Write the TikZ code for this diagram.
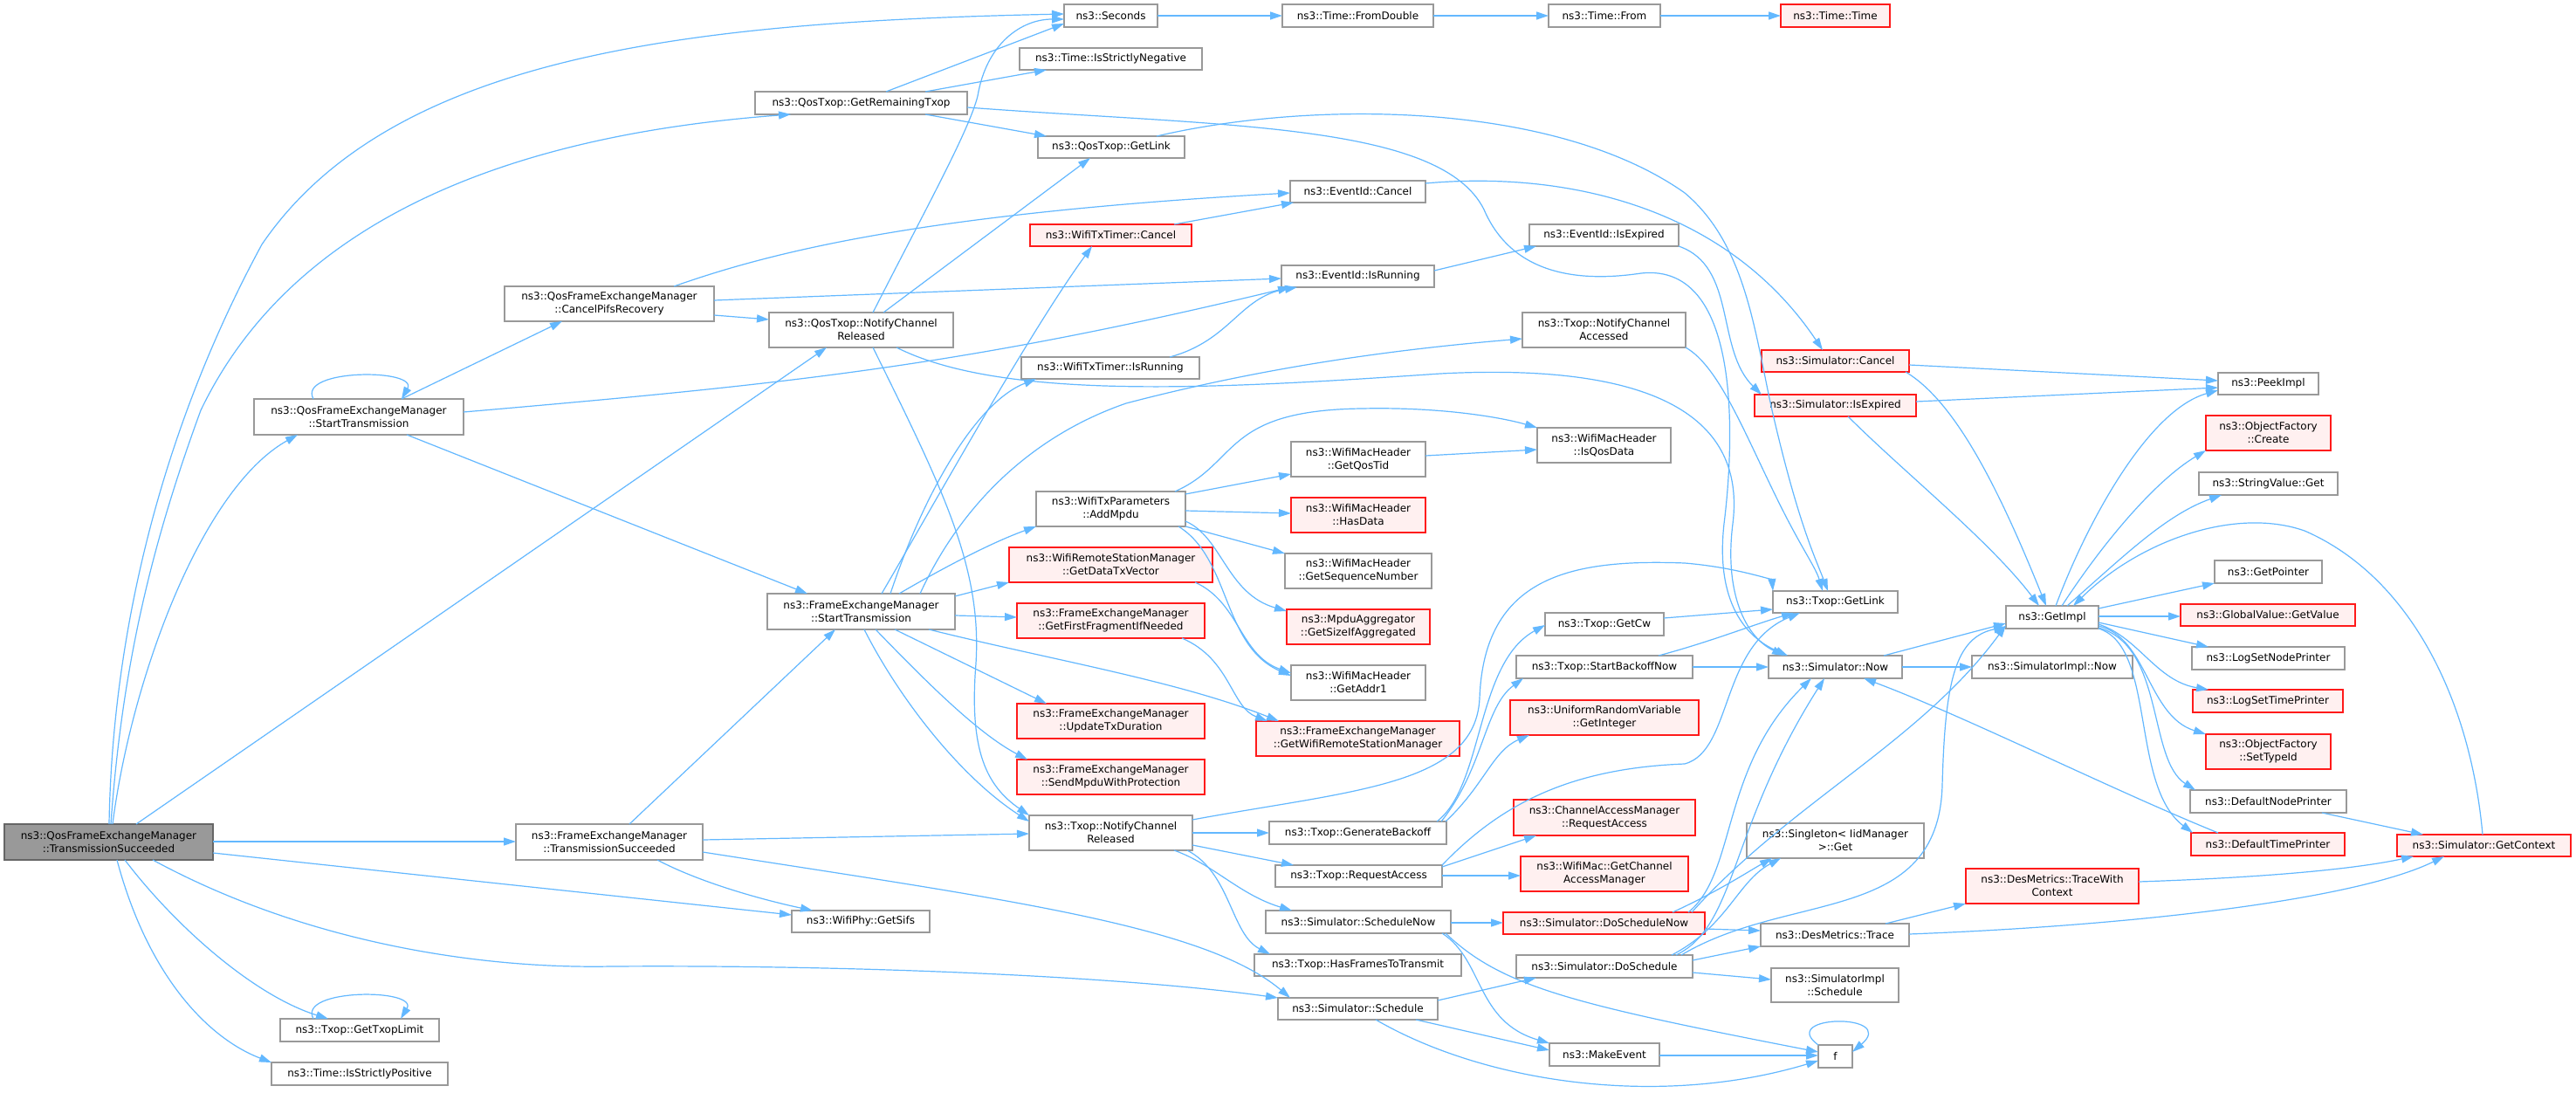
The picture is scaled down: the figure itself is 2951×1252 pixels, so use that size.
\documentclass[tikz,border=0pt]{standalone}
\usepackage{fontspec}
\setmainfont{DejaVu Sans}
\usetikzlibrary{arrows.meta}
\definecolor{ecol}{HTML}{63B8FF}
\definecolor{ncol}{HTML}{999999}
\definecolor{rootline}{HTML}{666666}
\definecolor{rootfill}{HTML}{999999}
\definecolor{redfill}{HTML}{FFF0F0}
\definecolor{rcol}{HTML}{FF1A1A}
\tikzset{
  nb/.style={draw=ncol, fill=white, line width=1.1pt, inner sep=0pt, outer sep=0pt,
    align=center, font=\fontsize{12}{15}\selectfont},
  rootbox/.style={draw=rootline, fill=rootfill},
  trunc/.style={draw=rcol, fill=redfill},
  e/.style={draw=ecol, line width=1.2pt, -{Triangle[length=14pt,width=9pt]}}
}
\newcommand{\mknode}[7][]{\node[nb,#1,minimum width={#4-#2}, minimum height={#5-#3}] (#6) at ({(#2+#4)/2},{(#3+#5)/2}) {#7};}
\begin{document}
\begin{tikzpicture}[x=1pt,y=-1pt]
\fill[white] (0,0) rectangle (2951,1252);
\useasboundingbox (0,0) rectangle (2951,1252);
% nodes
\mknode[rootbox]{5}{944}{244}{985}{R}{ns3::QosFrameExchangeManager\\::TransmissionSucceeded}
\mknode{291}{457}{531}{498}{QST}{ns3::QosFrameExchangeManager\\::StartTransmission}
\mknode{321}{1167}{503}{1193}{GTL}{ns3::Txop::GetTxopLimit}
\mknode{311}{1217}{513}{1243}{TISP}{ns3::Time::IsStrictlyPositive}
\mknode{578}{328}{818}{368}{CPR}{ns3::QosFrameExchangeManager\\::CancelPifsRecovery}
\mknode{591}{944}{805}{985}{FTS}{ns3::FrameExchangeManager\\::TransmissionSucceeded}
\mknode{865}{105}{1108}{131}{GRT}{ns3::QosTxop::GetRemainingTxop}
\mknode{881}{358}{1092}{398}{QNCR}{ns3::QosTxop::NotifyChannel\\Released}
\mknode{879}{680}{1094}{721}{FST}{ns3::FrameExchangeManager\\::StartTransmission}
\mknode{907}{1043}{1065}{1068}{SIFS}{ns3::WifiPhy::GetSifs}
\mknode{1219}{5}{1326}{31}{SEC}{ns3::Seconds}
\mknode{1168}{55}{1377}{80}{TISN}{ns3::Time::IsStrictlyNegative}
\mknode{1189}{156}{1357}{181}{QGL}{ns3::QosTxop::GetLink}
\mknode[trunc]{1180}{257}{1365}{282}{WTC}{ns3::WifiTxTimer::Cancel}
\mknode{1170}{409}{1374}{434}{WTR}{ns3::WifiTxTimer::IsRunning}
\mknode{1187}{563}{1358}{603}{AMP}{ns3::WifiTxParameters\\::AddMpdu}
\mknode[trunc]{1156}{627}{1389}{667}{GDTV}{ns3::WifiRemoteStationManager\\::GetDataTxVector}
\mknode[trunc]{1165}{691}{1380}{731}{GFF}{ns3::FrameExchangeManager\\::GetFirstFragmentIfNeeded}
\mknode[trunc]{1165}{806}{1380}{846}{UTD}{ns3::FrameExchangeManager\\::UpdateTxDuration}
\mknode[trunc]{1165}{870}{1380}{910}{SMP}{ns3::FrameExchangeManager\\::SendMpduWithProtection}
\mknode{1179}{934}{1366}{974}{TNCR}{ns3::Txop::NotifyChannel\\Released}
\mknode{1450}{1043}{1662}{1069}{SNOW}{ns3::Simulator::ScheduleNow}
\mknode{1437}{1093}{1674}{1118}{HFT}{ns3::Txop::HasFramesToTransmit}
\mknode{1464}{1143}{1647}{1168}{SCH}{ns3::Simulator::Schedule}
\mknode{1469}{5}{1642}{31}{TFD}{ns3::Time::FromDouble}
\mknode{1478}{207}{1633}{232}{ECAN}{ns3::EventId::Cancel}
\mknode{1468}{304}{1643}{329}{ERUN}{ns3::EventId::IsRunning}
\mknode{1479}{506}{1633}{546}{QTID}{ns3::WifiMacHeader\\::GetQosTid}
\mknode[trunc]{1479}{570}{1633}{610}{HDAT}{ns3::WifiMacHeader\\::HasData}
\mknode{1472}{634}{1640}{674}{GSN}{ns3::WifiMacHeader\\::GetSequenceNumber}
\mknode[trunc]{1474}{698}{1638}{738}{GSIA}{ns3::MpduAggregator\\::GetSizeIfAggregated}
\mknode{1479}{762}{1633}{802}{ADDR}{ns3::WifiMacHeader\\::GetAddr1}
\mknode[trunc]{1439}{826}{1672}{866}{GWRSM}{ns3::FrameExchangeManager\\::GetWifiRemoteStationManager}
\mknode{1454}{941}{1657}{967}{GBO}{ns3::Txop::GenerateBackoff}
\mknode{1461}{991}{1652}{1016}{RA}{ns3::Txop::RequestAccess}
\mknode{1774}{5}{1902}{31}{TFROM}{ns3::Time::From}
\mknode[trunc]{2040}{5}{2165}{31}{TTIME}{ns3::Time::Time}
\mknode{1752}{257}{1923}{282}{EEXP}{ns3::EventId::IsExpired}
\mknode{1744}{358}{1931}{398}{NCA}{ns3::Txop::NotifyChannel\\Accessed}
\mknode[trunc]{2018}{401}{2187}{426}{SCAN}{ns3::Simulator::Cancel}
\mknode[trunc]{2010}{452}{2195}{477}{SEXP}{ns3::Simulator::IsExpired}
\mknode{1761}{490}{1914}{530}{QOSD}{ns3::WifiMacHeader\\::IsQosData}
\mknode{2031}{677}{2174}{702}{TGL}{ns3::Txop::GetLink}
\mknode{1770}{702}{1906}{728}{GCW}{ns3::Txop::GetCw}
\mknode{1737}{751}{1939}{777}{SBN}{ns3::Txop::StartBackoffNow}
\mknode{2026}{751}{2179}{777}{NOW}{ns3::Simulator::Now}
\mknode[trunc]{1730}{802}{1946}{842}{URV}{ns3::UniformRandomVariable\\::GetInteger}
\mknode[trunc]{1734}{916}{1942}{957}{CAM}{ns3::ChannelAccessManager\\::RequestAccess}
\mknode[trunc]{1742}{981}{1934}{1021}{GCAM}{ns3::WifiMac::GetChannel\\AccessManager}
\mknode{2001}{943}{2204}{983}{SING}{ns3::Singleton< IidManager\\>::Get}
\mknode[trunc]{1722}{1045}{1953}{1070}{DSN}{ns3::Simulator::DoScheduleNow}
\mknode{2017}{1058}{2187}{1084}{DMT}{ns3::DesMetrics::Trace}
\mknode{1737}{1094}{1939}{1120}{DS}{ns3::Simulator::DoSchedule}
\mknode{2029}{1109}{2175}{1148}{SIS}{ns3::SimulatorImpl\\::Schedule}
\mknode{1775}{1195}{1901}{1221}{ME}{ns3::MakeEvent}
\mknode{2083}{1197}{2122}{1223}{F}{f}
\mknode{2298}{694}{2404}{720}{GI}{ns3::GetImpl}
\mknode{2259}{751}{2443}{777}{SIN}{ns3::SimulatorImpl::Now}
\mknode[trunc]{2252}{995}{2450}{1035}{DTWC}{ns3::DesMetrics::TraceWith\\Context}
\mknode{2541}{427}{2656}{452}{PEEK}{ns3::PeekImpl}
\mknode[trunc]{2527}{476}{2670}{516}{OFC}{ns3::ObjectFactory\\::Create}
\mknode{2519}{541}{2678}{567}{SVG}{ns3::StringValue::Get}
\mknode{2537}{642}{2660}{668}{GPTR}{ns3::GetPointer}
\mknode[trunc]{2498}{692}{2698}{717}{GVGV}{ns3::GlobalValue::GetValue}
\mknode{2511}{741}{2686}{767}{LSNP}{ns3::LogSetNodePrinter}
\mknode[trunc]{2512}{790}{2684}{816}{LSTP}{ns3::LogSetTimePrinter}
\mknode[trunc]{2527}{841}{2670}{881}{OFST}{ns3::ObjectFactory\\::SetTypeId}
\mknode{2509}{905}{2688}{931}{DNP}{ns3::DefaultNodePrinter}
\mknode[trunc]{2510}{954}{2686}{980}{DTP}{ns3::DefaultTimePrinter}
\mknode[trunc]{2746}{956}{2945}{981}{GCTX}{ns3::Simulator::GetContext}
% edges from root
\draw[e] (R.north -| 125,0) .. controls (128,760) and (170,520) .. (300,280) .. controls (450,60) and (800,25) .. (SEC.west |- 0,16);
\draw[e] (R.north -| 127,0) .. controls (140,760) and (175,620) .. (230,470) .. controls (350,220) and (650,150) .. (GRT.south -| 906,0);
\draw[e] (R.north -| 129,0) .. controls (150,780) and (230,560) .. (QST.south -| 341,0);
\draw[e] (R.north -| 156,0) -- (QNCR.south -| 947,0);
\draw[e] (R.east |- 0,964) -- (FTS.west |- 0,964);
\draw[e] (R.east |- 0,977) -- (SIFS.west |- 0,1048);
\draw[e] (R.south -| 175,0) .. controls (350,1080) and (550,1110) .. (700,1107) .. controls (1000,1105) and (1300,1120) .. (SCH.north west);
\draw[e] (R.south -| 143,0) .. controls (200,1060) and (290,1140) .. (GTL.north -| 376,0);
\draw[e] (R.south -| 134,0) .. controls (170,1120) and (240,1190) .. (TISP.north west);
% self loops
\draw[e] (GTL.north -| 359,0) .. controls (340,1132) and (480,1132) .. (GTL.north -| 459,0);
\draw[e] (QST.north -| 359,0) .. controls (340,422) and (480,422) .. (QST.north -| 460,0);
% QST
\draw[e] (QST.north -| 460,0) -- (CPR.south -| 644,0);
\draw[e] (QST.south -| 466,0) -- (FST.north -| 925,0);
\draw[e] (QST.east |- 0,472) .. controls (900,440) and (1100,420) .. (ERUN.south -| 1478,0);
% CPR
\draw[e] (CPR.north -| 772,0) .. controls (880,290) and (1050,245) .. (ECAN.west |- 0,221);
\draw[e] (CPR.east |- 0,344) -- (ERUN.west |- 0,319);
\draw[e] (CPR.east |- 0,361) -- (QNCR.west |- 0,366);
% GRT
\draw[e] (GRT.north -| 1015,0) -- (SEC.west |- 0,27);
\draw[e] (GRT.north -| 1060,0) -- (TISN.south -| 1199,0);
\draw[e] (GRT.south -| 1060,0) -- (QGL.north -| 1199,0);
\draw[e] (GRT.east |- 0,123) .. controls (1400,145) and (1650,140) .. (1700,240) .. controls (1730,310) and (1800,325) .. (1880,313) .. controls (2000,300) and (1985,520) .. (1975,600) .. controls (1965,690) and (2000,730) .. (NOW.north -| 2048,0);
% QNCR
\draw[e] (QNCR.north -| 1000,0) .. controls (1060,240) and (1110,150) .. (1120,110) .. controls (1130,50) and (1170,22) .. (SEC.west |- 0,22);
\draw[e] (QNCR.north -| 1012,0) -- (QGL.south -| 1249,0);
\draw[e] (QNCR.south -| 1000,0) .. controls (1080,560) and (1125,650) .. (1118,760) .. controls (1110,860) and (1130,900) .. (TNCR.north west);
\draw[e] (QNCR.south -| 1027,0) .. controls (1150,460) and (1400,445) .. (1650,428) .. controls (1900,415) and (2000,480) .. (1985,600) .. controls (1975,680) and (2000,730) .. (NOW.north -| 2044,0);
% WifiTxTimer
\draw[e] (WTC.north -| 1345,0) -- (ECAN.south -| 1482,0);
\draw[e] (WTR.north -| 1340,0) .. controls (1410,390) and (1420,340) .. (ERUN.south -| 1486,0);
% FST
\draw[e] (FST.north -| 1010,0) .. controls (1080,560) and (1180,380) .. (WTC.south -| 1251,0);
\draw[e] (FST.north -| 1020,0) .. controls (1060,560) and (1120,460) .. (WTR.south -| 1187,0);
\draw[e] (FST.north -| 1054,0) .. controls (1100,580) and (1180,500) .. (1290,462) .. controls (1450,420) and (1600,400) .. (NCA.west |- 0,388);
\draw[e] (FST.north -| 1030,0) .. controls (1090,645) and (1140,620) .. (AMP.south west);
\draw[e] (FST.east |- 0,683) -- (GDTV.south west);
\draw[e] (FST.east |- 0,705) -- (GFF.west |- 0,707);
\draw[e] (FST.south -| 1064,0) .. controls (1200,755) and (1350,780) .. (GWRSM.north -| 1465,0);
\draw[e] (FST.south -| 1025,0) -- (UTD.north -| 1199,0);
\draw[e] (FST.south -| 1003,0) .. controls (1060,780) and (1120,840) .. (SMP.north -| 1177,0);
\draw[e] (FST.south -| 990,0) .. controls (1030,800) and (1100,890) .. (TNCR.west |- 0,941);
% FTS
\draw[e] (FTS.north -| 721,0) -- (FST.south -| 957,0);
\draw[e] (FTS.east |- 0,962) -- (TNCR.west |- 0,955);
\draw[e] (FTS.south -| 753,0) .. controls (800,1010) and (870,1030) .. (SIFS.north -| 931,0);
\draw[e] (FTS.east |- 0,976) .. controls (1150,1030) and (1380,1060) .. (SCH.north -| 1478,0);
% TNCR
\draw[e] (TNCR.east |- 0,939) .. controls (1550,905) and (1690,900) .. (1695,800) .. controls (1700,660) and (1800,640) .. (1930,645) .. controls (1990,650) and (2030,665) .. (TGL.north west);
\draw[e] (TNCR.east |- 0,954) -- (GBO.west |- 0,954);
\draw[e] (TNCR.east |- 0,968) -- (RA.north -| 1482,0);
\draw[e] (TNCR.south -| 1345,0) .. controls (1390,990) and (1420,1025) .. (SNOW.north -| 1480,0);
\draw[e] (TNCR.south -| 1360,0) .. controls (1410,1000) and (1410,1070) .. (HFT.north -| 1455,0);
% GBO
\draw[e] (GBO.north -| 1646,0) .. controls (1700,900) and (1690,760) .. (GCW.west |- 0,716);
\draw[e] (GBO.north -| 1651,0) .. controls (1700,880) and (1700,810) .. (SBN.south -| 1745,0);
\draw[e] (GBO.north -| 1656,0) .. controls (1700,900) and (1710,860) .. (URV.south -| 1752,0);
% into Txop::GetLink and Now
\draw[e] (SBN.north -| 1900,0) .. controls (1960,735) and (2010,715) .. (TGL.south -| 2055,0);
\draw[e] (SBN.east |- 0,764) -- (NOW.west |- 0,764);
\draw[e] (GCW.east |- 0,708) -- (TGL.west |- 0,698);
\draw[e] (RA.north east) .. controls (1720,920) and (1800,880) .. (1930,875) .. controls (1985,860) and (1970,740) .. (TGL.south -| 2062,0);
\draw[e] (RA.east |- 0,993) -- (CAM.south -| 1760,0);
\draw[e] (RA.east |- 0,1003) -- (GCAM.west |- 0,1003);
\draw[e] (NCA.south east) .. controls (1970,420) and (2000,500) .. (2040,580) .. controls (2065,630) and (2080,650) .. (TGL.north -| 2088,0);
\draw[e] (QGL.north -| 1325,0) .. controls (1500,115) and (1780,115) .. (1930,221) .. controls (2000,280) and (2010,380) .. (2030,470) .. controls (2060,600) and (2080,640) .. (TGL.north -| 2094,0);
% ScheduleNow / Schedule
\draw[e] (SNOW.east |- 0,1057) -- (DSN.west |- 0,1057);
\draw[e] (SNOW.south -| 1652,0) .. controls (1700,1100) and (1690,1170) .. (ME.north west);
\draw[e] (SNOW.south -| 1656,0) .. controls (1720,1130) and (1800,1150) .. (F.west |- 0,1205);
\draw[e] (SCH.east |- 0,1146) -- (DS.south -| 1760,0);
\draw[e] (SCH.south -| 1622,0) -- (ME.west |- 0,1203);
\draw[e] (SCH.south -| 1576,0) .. controls (1700,1240) and (1900,1270) .. (F.west |- 0,1215);
\draw[e] (ME.east |- 0,1209) -- (F.west |- 0,1209);
\draw[e] (F.north west) .. controls (2035,1162) and (2175,1160) .. (F.east |- 0,1205);
% DoScheduleNow
\draw[e] (DSN.north -| 1916,0) .. controls (1970,1020) and (2000,1000) .. (SING.south -| 2030,0);
\draw[e] (DSN.north -| 1934,0) .. controls (1990,1000) and (1970,880) .. (NOW.south -| 2075,0);
\draw[e] (DSN.north -| 1938,0) .. controls (2050,920) and (2200,850) .. (GI.west |- 0,716);
\draw[e] (DSN.east |- 0,1064) -- (DMT.west |- 0,1066);
% DoSchedule
\draw[e] (DS.north -| 1920,0) .. controls (1990,1060) and (1980,950) .. (NOW.south -| 2090,0);
\draw[e] (DS.north -| 1915,0) .. controls (1980,1060) and (1990,1010) .. (SING.south -| 2040,0);
\draw[e] (DS.north -| 1926,0) .. controls (2050,1020) and (2220,1060) .. (2225,900) .. controls (2228,780) and (2240,730) .. (GI.west |- 0,718);
\draw[e] (DS.east |- 0,1100) -- (DMT.south west);
\draw[e] (DS.east |- 0,1114) -- (SIS.west |- 0,1122);
% DesMetrics
\draw[e] (DMT.north -| 2160,0) -- (DTWC.south west);
\draw[e] (DMT.east |- 0,1070) .. controls (2450,1060) and (2700,1030) .. (GCTX.south -| 2800,0);
\draw[e] (DTWC.east |- 0,1010) .. controls (2600,1005) and (2700,995) .. (GCTX.south -| 2765,0);
% Now
\draw[e] (NOW.east |- 0,764) -- (SIN.west |- 0,764);
\draw[e] (NOW.north -| 2158,0) -- (GI.west |- 0,714);
% GetImpl out
\draw[e] (GI.north -| 2355,0) .. controls (2390,600) and (2460,470) .. (PEEK.west |- 0,447);
\draw[e] (GI.north -| 2362,0) .. controls (2410,620) and (2470,550) .. (OFC.south west);
\draw[e] (GI.north -| 2368,0) .. controls (2430,640) and (2480,590) .. (SVG.south -| 2545,0);
\draw[e] (GI.east |- 0,697) -- (GPTR.south west);
\draw[e] (GI.east |- 0,706) -- (GVGV.west |- 0,706);
\draw[e] (GI.east |- 0,713) -- (LSNP.north -| 2530,0);
\draw[e] (GI.east |- 0,715) .. controls (2450,730) and (2470,780) .. (LSTP.north -| 2530,0);
\draw[e] (GI.east |- 0,717) .. controls (2460,730) and (2460,820) .. (OFST.north west);
\draw[e] (GI.east |- 0,719) .. controls (2480,740) and (2460,870) .. (DNP.north -| 2515,0);
\draw[e] (GI.south east) .. controls (2470,740) and (2440,900) .. (DTP.north -| 2512,0);
% GetContext, printers
\draw[e] (GCTX.north -| 2844,0) .. controls (2830,800) and (2760,660) .. (2640,608) .. controls (2560,580) and (2450,620) .. (GI.north -| 2375,0);
\draw[e] (DNP.south -| 2660,0) -- (GCTX.north -| 2776,0);
\draw[e] (DTP.north -| 2541,0) .. controls (2420,905) and (2250,820) .. (NOW.south -| 2135,0);
% Simulator Cancel / IsExpired
\draw[e] (SCAN.east |- 0,418) -- (PEEK.west |- 0,436);
\draw[e] (SCAN.south -| 2183,0) .. controls (2240,460) and (2290,560) .. (GI.north -| 2344,0);
\draw[e] (SEXP.east |- 0,460) -- (PEEK.west |- 0,444);
\draw[e] (SEXP.south -| 2117,0) .. controls (2180,540) and (2280,620) .. (GI.north -| 2336,0);
% EventId
\draw[e] (ECAN.east |- 0,210) .. controls (1800,195) and (1980,240) .. (SCAN.north -| 2088,0);
\draw[e] (ERUN.east |- 0,310) -- (EEXP.south -| 1760,0);
\draw[e] (EEXP.south east) .. controls (1990,305) and (1965,400) .. (SEXP.north -| 2018,0);
% WifiMacHeader etc.
\draw[e] (QTID.east |- 0,522) -- (QOSD.west |- 0,515);
\draw[e] (AMP.north -| 1346,0) .. controls (1420,530) and (1400,470) .. (1560,468) .. controls (1650,466) and (1720,478) .. (QOSD.north west);
\draw[e] (AMP.east |- 0,566) -- (QTID.west |- 0,543);
\draw[e] (AMP.east |- 0,585) -- (HDAT.west |- 0,588);
\draw[e] (AMP.south east) -- (GSN.north west);
\draw[e] (AMP.east |- 0,597) .. controls (1400,615) and (1405,680) .. (GSIA.west |- 0,700);
\draw[e] (AMP.south -| 1350,0) .. controls (1410,640) and (1400,740) .. (ADDR.west |- 0,774);
\draw[e] (GDTV.south -| 1369,0) .. controls (1420,690) and (1420,750) .. (ADDR.west |- 0,771);
\draw[e] (GFF.south -| 1354,0) .. controls (1410,755) and (1410,810) .. (GWRSM.north -| 1452,0);
% Time chain
\draw[e] (SEC.east |- 0,18) -- (TFD.west |- 0,18);
\draw[e] (TFD.east |- 0,18) -- (TFROM.west |- 0,18);
\draw[e] (TFROM.east |- 0,18) -- (TTIME.west |- 0,18);
\end{tikzpicture}
\end{document}
